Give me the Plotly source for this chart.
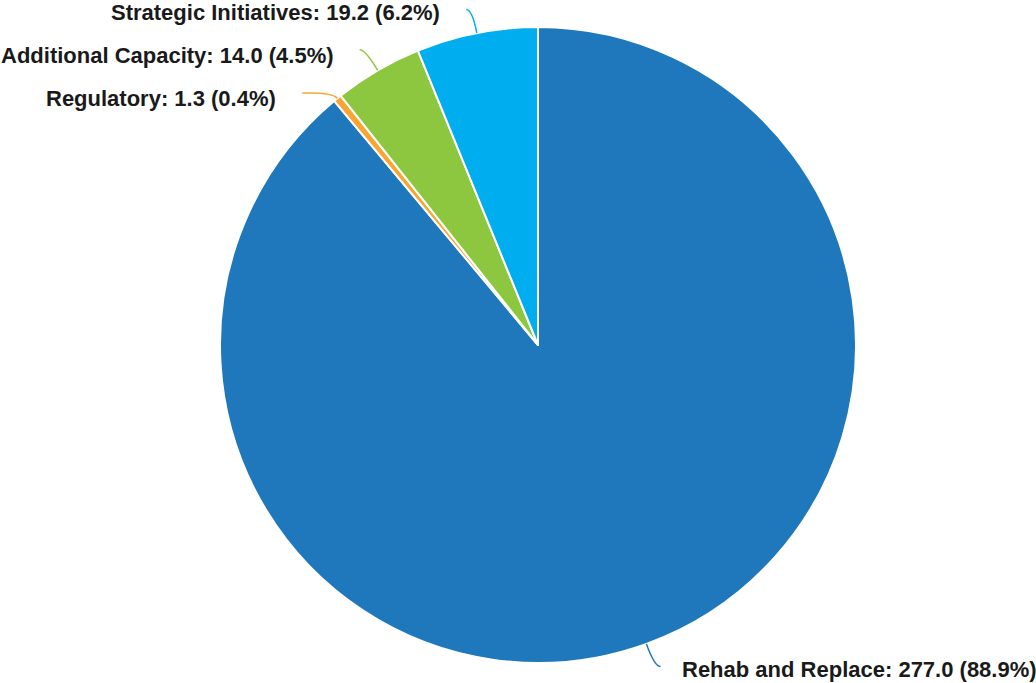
import math
import plotly.graph_objects as go

# Capital program breakdown
categories = ["Rehab and Replace", "Regulatory", "Additional Capacity", "Strategic Initiatives"]
values = [277.0, 1.3, 14.0, 19.2]
colors = ["#1f77bc", "#f9a533", "#8dc63f", "#00aeef"]

W, H = 1036, 683
CX, CY, R = 538, 345, 318          # pie centre and radius, px
LEAD1, LEAD2 = 24, 6               # leader line radial / horizontal lengths
GAP_LEFT, GAP_RIGHT = 24, 19       # space between leader end and label
LABEL_DROP = 3                     # label centre sits slightly below the leader end
MIN_SPACING = 43                   # minimum vertical distance between labels on one side
SHIFT_TOL = 8                      # shifts below this keep the plain leader line

fig = go.Figure()
fig.add_trace(go.Pie(
    labels=categories,
    values=values,
    sort=False,
    direction="clockwise",
    rotation=0,
    marker=dict(colors=colors, line=dict(color="white", width=2)),
    textinfo="none",
    hoverinfo="label+value+percent",
    showlegend=False,
    domain=dict(x=[(CX - R) / W, (CX + R) / W],
                y=[(H - CY - R) / H, (H - CY + R) / H]),
))

# leader lines and labels, laid out from slice mid-angles
total = sum(values)
items = []
cum = 0.0
for name, v, c in zip(categories, values, colors):
    mid = (cum + v / 2) / total * 2 * math.pi
    cum += v
    dx, dy = math.sin(mid), -math.cos(mid)
    ex, ey = CX + R * dx, CY + R * dy
    side = 1 if dx >= 0 else -1
    natural_y = ey + LEAD1 * dy + LABEL_DROP
    items.append(dict(name=name, v=v, c=c, dx=dx, dy=dy, ex=ex, ey=ey,
                      side=side, ny=natural_y, y=natural_y))

# push labels apart vertically on each side
for side in (-1, 1):
    group = sorted([it for it in items if it["side"] == side], key=lambda it: it["y"])
    for prev, cur in zip(group, group[1:]):
        if cur["y"] - prev["y"] < MIN_SPACING:
            cur["y"] = prev["y"] + MIN_SPACING

shapes, annotations = [], []
for it in items:
    shifted = abs(it["y"] - it["ny"]) > SHIFT_TOL
    if shifted:
        t, h = 8, 30
        p1x, p1y = it["ex"] + t * it["dx"], it["ey"] + t * it["dy"]
        p2x, p2y = p1x + it["side"] * h, p1y + 1
    else:
        p1x, p1y = it["ex"] + LEAD1 * it["dx"], it["ey"] + LEAD1 * it["dy"]
        p2x, p2y = p1x + it["side"] * LEAD2, p1y
    shapes.append(dict(
        type="path", xref="x", yref="y",
        path=f"M {it['ex']:.1f},{it['ey']:.1f} Q {p1x:.1f},{p1y:.1f} {p2x:.1f},{p2y:.1f}",
        line=dict(color=it["c"], width=1.5),
    ))
    pct = it["v"] / total * 100
    gap = GAP_RIGHT if it["side"] > 0 else GAP_LEFT
    annotations.append(dict(
        x=p2x + it["side"] * gap, y=it["y"], xref="x", yref="y",
        text=f"{it['name']}: {it['v']:.1f} ({pct:.1f}%)",
        showarrow=False,
        xanchor="left" if it["side"] > 0 else "right",
        yanchor="middle",
        font=dict(family="Liberation Sans, Arial, sans-serif", size=22, color="#1a1a1a", weight="bold"),
    ))

fig.update_layout(
    width=W, height=H,
    margin=dict(l=0, r=0, t=0, b=0),
    paper_bgcolor="white",
    plot_bgcolor="rgba(0,0,0,0)",
    xaxis=dict(range=[0, W], visible=False, fixedrange=True, domain=[0, 1]),
    yaxis=dict(range=[H, 0], visible=False, fixedrange=True, domain=[0, 1]),
    shapes=shapes,
    annotations=annotations,
)

fig.write_html("out.html")
